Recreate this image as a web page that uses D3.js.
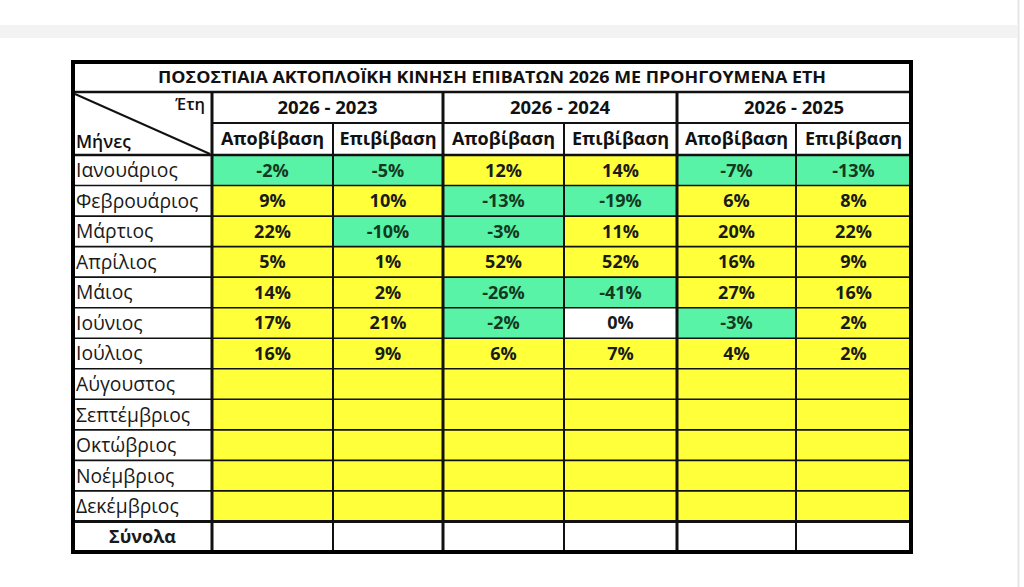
<!DOCTYPE html>
<meta charset="utf-8">
<style>
body { margin: 0; background: #fff; }
text { font-family: "Open Sans", "Noto Sans", sans-serif; }
</style>
<body>
<script src="https://d3js.org/d3.v7.min.js"></script>
<script>

// table texts
var title = "ΠΟΣΟΣΤΙΑΙΑ ΑΚΤΟΠΛΟΪΚΗ ΚΙΝΗΣΗ ΕΠΙΒΑΤΩΝ 2026 ΜΕ ΠΡΟΗΓΟΥΜΕΝΑ ΕΤΗ";
var months = ["Ιανουάριος", "Φεβρουάριος", "Μάρτιος", "Απρίλιος", "Μάιος", "Ιούνιος",
  "Ιούλιος", "Αύγουστος", "Σεπτέμβριος", "Οκτώβριος", "Νοέμβριος", "Δεκέμβριος"];
var totalLabel = "Σύνολα";
var groups = ["2026 - 2023", "2026 - 2024", "2026 - 2025"];
var subCols = ["Αποβίβαση", "Επιβίβαση"];

// percentage values per column (Jan..Jul, rest still empty)
var apo2023 = [-2, 9, 22, 5, 14, 17, 16];
var epi2023 = [-5, 10, -10, 1, 2, 21, 9];
var apo2024 = [12, -13, -3, 52, -26, -2, 6];
var epi2024 = [14, -19, 11, 52, -41, 0, 7];
var apo2025 = [-7, 6, 20, 16, 27, -3, 4];
var epi2025 = [-13, 8, 22, 9, 16, 2, 2];

var columns = [apo2023, epi2023, apo2024, epi2024, apo2025, epi2025];

// layout
var W = 1024, H = 587;
var tLeft = 73, tRight = 911, tTop = 62, tBottom = 552;
var titleH = 30, head1H = 31, head2H = 32;
var labelW = 139;
var colWidths = [121, 110, 121, 113, 119, 115];

var svg = d3.select("body").append("svg")
  .attr("width", W)
  .attr("height", H);

// page decoration (light band + edge)
svg.append("rect").attr("x", 0).attr("y", 25).attr("width", 1017).attr("height", 13).attr("fill", "#f3f3f3");
svg.append("line").attr("x1", 1018.5).attr("x2", 1018.5).attr("y1", 0).attr("y2", H)
  .attr("stroke", "#e6e6e6").attr("stroke-width", 2);

// scales
var colKeys = d3.range(columns.length);
var edges = [tLeft + labelW];
colWidths.forEach(function(w, i) { edges.push(edges[i] + w); });
var x = d3.scaleOrdinal().domain(colKeys).range(edges.slice(0, -1));
var xw = d3.scaleOrdinal().domain(colKeys).range(colWidths);

var rowKeys = months.concat([totalLabel]);
var bodyTop = tTop + titleH + head1H + head2H;
var y = d3.scaleBand().domain(rowKeys).range([bodyTop, tBottom]);

function fillFor(v, row) {
  if (row === totalLabel) return "#ffffff";
  if (v === undefined) return "#ffff3a";
  if (v < 0) return "#58f3a6";
  if (v === 0) return "#ffffff";
  return "#ffff3a";
}

// cells
var cells = [];
rowKeys.forEach(function(r, ri) {
  colKeys.forEach(function(c) {
    cells.push({ row: r, col: c, v: columns[c][ri] });
  });
});

var g = svg.append("g");

g.append("rect").attr("x", tLeft).attr("y", tTop).attr("width", tRight - tLeft).attr("height", tBottom - tTop)
  .attr("fill", "#fff");

g.selectAll(".cell")
  .data(cells)
  .enter().append("rect")
    .attr("class", "cell")
    .attr("x", function(d) { return x(d.col); })
    .attr("y", function(d) { return y(d.row); })
    .attr("width", function(d) { return xw(d.col); })
    .attr("height", y.bandwidth())
    .attr("fill", function(d) { return fillFor(d.v, d.row); });

g.selectAll(".val")
  .data(cells.filter(function(d) { return d.v !== undefined; }))
  .enter().append("text")
    .attr("class", "val")
    .attr("x", function(d) { return x(d.col) + xw(d.col) / 2; })
    .attr("y", function(d) { return y(d.row) + y.bandwidth() / 2; })
    .attr("dy", "0.36em")
    .attr("text-anchor", "middle")
    .attr("font-size", 18)
    .attr("font-weight", "bold")
    .attr("fill", function(d) { return d.v < 0 ? "#15391f" : "#1a1a1a"; })
    .text(function(d) { return d.v + "%"; });

// month labels
g.selectAll(".month")
  .data(rowKeys)
  .enter().append("text")
    .attr("class", "month")
    .attr("x", function(d) { return d === totalLabel ? tLeft + labelW / 2 : tLeft + 3; })
    .attr("y", function(d) { return y(d) + y.bandwidth() / 2; })
    .attr("dy", "0.36em")
    .attr("text-anchor", function(d) { return d === totalLabel ? "middle" : "start"; })
    .attr("font-size", function(d) { return d === totalLabel ? 18 : 19.3; })
    .attr("font-weight", function(d) { return d === totalLabel ? "bold" : "normal"; })
    .attr("fill", "#1a1a1a")
    .text(function(d) { return d; });

// title
g.append("text")
  .attr("x", (tLeft + tRight) / 2)
  .attr("y", tTop + titleH / 2)
  .attr("dy", "0.36em")
  .attr("text-anchor", "middle")
  .attr("font-size", 16.5)
  .attr("font-weight", "bold")
  .attr("textLength", 668)
  .attr("lengthAdjust", "spacingAndGlyphs")
  .attr("fill", "#111")
  .text(title);

// group headers
var h1 = tTop + titleH, h2 = h1 + head1H;
g.selectAll(".grp")
  .data(groups)
  .enter().append("text")
    .attr("class", "grp")
    .attr("x", function(d, i) { return (x(2 * i) + x(2 * i + 1) + xw(2 * i + 1)) / 2; })
    .attr("y", h1 + head1H / 2)
    .attr("dy", "0.36em")
    .attr("text-anchor", "middle")
    .attr("font-size", 18.5)
    .attr("font-weight", "bold")
    .attr("fill", "#111")
    .text(function(d) { return d; });

g.selectAll(".sub")
  .data(colKeys)
  .enter().append("text")
    .attr("class", "sub")
    .attr("x", function(c) { return x(c) + xw(c) / 2; })
    .attr("y", h2 + head2H / 2)
    .attr("dy", "0.36em")
    .attr("text-anchor", "middle")
    .attr("font-size", 18)
    .attr("font-weight", "bold")
    .attr("fill", "#111")
    .text(function(c) { return subCols[c % 2]; });

// corner header
g.append("text").attr("x", tLeft + labelW - 7).attr("y", h1 + 18).attr("text-anchor", "end")
  .attr("font-size", 16.5).attr("font-weight", "600").attr("fill", "#111").text("Έτη");
g.append("text").attr("x", tLeft + 3).attr("y", bodyTop - 7)
  .attr("font-size", 17.5).attr("font-weight", "600").attr("fill", "#111").text("Μήνες");
g.append("line").attr("x1", tLeft + 2).attr("y1", h1 + 2).attr("x2", tLeft + labelW - 2).attr("y2", bodyTop - 1)
  .attr("stroke", "#111").attr("stroke-width", 2);

// grid lines
function hline(yy, x1, x2, w) {
  g.append("line").attr("x1", x1).attr("x2", x2).attr("y1", yy).attr("y2", yy)
    .attr("stroke", "#111").attr("stroke-width", w);
}
function vline(xx, y1, y2, w) {
  g.append("line").attr("x1", xx).attr("x2", xx).attr("y1", y1).attr("y2", y2)
    .attr("stroke", "#111").attr("stroke-width", w);
}

rowKeys.forEach(function(r, i) {
  if (i > 0) hline(y(r), tLeft, tRight, r === totalLabel ? 3 : 1.6);
});
hline(h1, tLeft, tRight, 2.5);
hline(h2, tLeft + labelW, tRight, 2);
hline(bodyTop, tLeft, tRight, 2.5);

vline(tLeft + labelW, h1, tBottom, 3);
colKeys.forEach(function(c) {
  if (c === 0) return;
  vline(x(c), h1 + (c % 2 ? head1H : 0), tBottom, c % 2 ? 2 : 3);
});

// outer border
g.append("rect").attr("x", tLeft).attr("y", tTop).attr("width", tRight - tLeft).attr("height", tBottom - tTop)
  .attr("fill", "none").attr("stroke", "#000").attr("stroke-width", 4);

</script>
</body>
